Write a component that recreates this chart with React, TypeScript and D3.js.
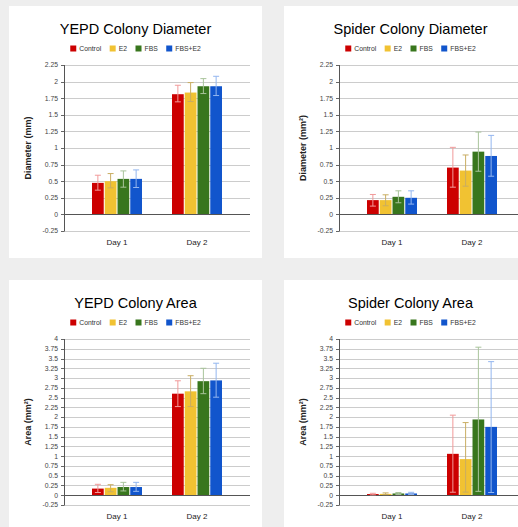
import { useEffect, useRef } from 'react'
import * as d3 from 'd3'

const days = ['Day 1', 'Day 2']
const series = ['Control', 'E2', 'FBS', 'FBS+E2']
const barColors = ['#cc0000', '#f1c232', '#38761d', '#1155cc']
const errColors = ['#f19a9a', '#c9ad62', '#a9c49b', '#93b6ef']

const diameterTicks = [-0.25, 0, 0.25, 0.5, 0.75, 1, 1.25, 1.5, 1.75, 2, 2.25]
const areaTicks = [
    -0.25, 0, 0.25, 0.5, 0.75, 1, 1.25, 1.5, 1.75, 2, 2.25, 2.5, 2.75, 3, 3.25, 3.5, 3.75, 4,
]

// one row per series: [Day 1, Day 2]
const yepdDiameterMean = [[0.475, 1.81], [0.5, 1.835], [0.535, 1.93], [0.535, 1.93]]
const yepdDiameterLow = [[0.365, 1.695], [0.4, 1.7], [0.41, 1.82], [0.405, 1.79]]
const yepdDiameterHigh = [[0.59, 1.945], [0.615, 1.985], [0.655, 2.045], [0.67, 2.08]]

const spiderDiameterMean = [[0.215, 0.705], [0.215, 0.66], [0.265, 0.945], [0.25, 0.88]]
const spiderDiameterLow = [[0.125, 0.41], [0.13, 0.425], [0.175, 0.65], [0.155, 0.575]]
const spiderDiameterHigh = [[0.3, 1.01], [0.295, 0.895], [0.355, 1.24], [0.355, 1.19]]

const yepdAreaMean = [[0.17, 2.6], [0.19, 2.66], [0.21, 2.92], [0.21, 2.94]]
const yepdAreaLow = [[0.07, 2.27], [0.09, 2.27], [0.11, 2.6], [0.1, 2.51]]
const yepdAreaHigh = [[0.28, 2.93], [0.27, 3.06], [0.33, 3.25], [0.33, 3.38]]

const spiderAreaMean = [[0.03, 1.06], [0.035, 0.925], [0.045, 1.94], [0.045, 1.75]]
const spiderAreaLow = [[0.01, 0.077], [0.015, 0.08], [0.02, 0.1], [0.02, 0.07]]
const spiderAreaHigh = [[0.05, 2.05], [0.06, 1.86], [0.07, 3.79], [0.075, 3.42]]

const panels = [
    { x: 9, y: 6, title: 'YEPD Colony Diameter', yLabel: 'Diameter (mm)', ticks: diameterTicks, mean: yepdDiameterMean, low: yepdDiameterLow, high: yepdDiameterHigh },
    { x: 284, y: 6, title: 'Spider Colony Diameter', yLabel: 'Diameter (mm²)', ticks: diameterTicks, mean: spiderDiameterMean, low: spiderDiameterLow, high: spiderDiameterHigh },
    { x: 9, y: 280, title: 'YEPD Colony Area', yLabel: 'Area (mm²)', ticks: areaTicks, mean: yepdAreaMean, low: yepdAreaLow, high: yepdAreaHigh },
    { x: 284, y: 280, title: 'Spider Colony Area', yLabel: 'Area (mm²)', ticks: areaTicks, mean: spiderAreaMean, low: spiderAreaLow, high: spiderAreaHigh },
]

const W = 518
const H = 527
const FONT = '"Liberation Sans", Arial, sans-serif'
const box = { w: 253, h: 252 }
const plot = { left: 55, right: 241, top: 59, bottom: 225 }

const drawPanel = (svg, p) => {
    const g = svg.append('g').attr('transform', `translate(${p.x},${p.y})`)

    g.append('rect').attr('width', box.w).attr('height', box.h).attr('fill', '#ffffff')

    const y = d3
        .scaleLinear()
        .domain([p.ticks[0], p.ticks[p.ticks.length - 1]])
        .range([plot.bottom, plot.top])
    const x0 = d3.scaleBand().domain(days).range([plot.left, plot.right]).paddingInner(0.375).paddingOuter(0.35)
    const x1 = d3.scaleBand().domain(series).range([0, x0.bandwidth()]).paddingInner(0.08)

    // Title
    g.append('text')
        .attr('x', box.w / 2)
        .attr('y', 27.5)
        .attr('text-anchor', 'middle')
        .attr('font-size', 14.5)
        .attr('fill', '#000')
        .text(p.title)

    // Legend
    const legend = g.append('g')
    let cx = 0
    series.forEach((s, i) => {
        legend.append('rect').attr('x', cx).attr('y', 39.5).attr('width', 6).attr('height', 6).attr('fill', barColors[i])
        const t = legend
            .append('text')
            .attr('x', cx + 9)
            .attr('y', 45)
            .attr('font-size', 6.8)
            .attr('fill', '#333')
            .text(s)
        cx += 9 + (t.node() as SVGTextElement).getComputedTextLength() + 8.5
    })
    const legendW = cx - 8.5
    legend.attr('transform', `translate(${box.w / 2 - legendW / 2},0)`)

    // Gridlines
    g.append('g')
        .selectAll('line')
        .data(p.ticks)
        .join('line')
        .attr('x1', plot.left)
        .attr('x2', plot.right)
        .attr('y1', d => Math.round(y(d)) + 0.5)
        .attr('y2', d => Math.round(y(d)) + 0.5)
        .attr('stroke', '#cccccc')

    // Tick labels and tick marks
    g.append('g')
        .selectAll('text')
        .data(p.ticks)
        .join('text')
        .attr('x', plot.left - 6)
        .attr('y', d => y(d))
        .attr('dy', '0.35em')
        .attr('text-anchor', 'end')
        .attr('font-size', 6.8)
        .attr('fill', '#444')
        .text(d => String(d))
    g.append('g')
        .selectAll('line')
        .data(p.ticks)
        .join('line')
        .attr('x1', plot.left - 3)
        .attr('x2', plot.left)
        .attr('y1', d => Math.round(y(d)) + 0.5)
        .attr('y2', d => Math.round(y(d)) + 0.5)
        .attr('stroke', '#666')

    // Bars
    series.forEach((s, si) => {
        g.append('g')
            .selectAll('rect')
            .data(days)
            .join('rect')
            .attr('x', (d, di) => x0(d) + x1(s))
            .attr('width', x1.bandwidth())
            .attr('y', (d, di) => y(Math.max(0, p.mean[si][di])))
            .attr('height', (d, di) => Math.abs(y(p.mean[si][di]) - y(0)))
            .attr('fill', barColors[si])
    })

    // Zero line and axis
    g.append('line')
        .attr('x1', plot.left)
        .attr('x2', plot.right)
        .attr('y1', Math.round(y(0)) + 0.5)
        .attr('y2', Math.round(y(0)) + 0.5)
        .attr('stroke', '#555')
    g.append('line')
        .attr('x1', plot.left + 0.5)
        .attr('x2', plot.left + 0.5)
        .attr('y1', plot.top)
        .attr('y2', plot.bottom + 0.5)
        .attr('stroke', '#555')

    // Error bars
    series.forEach((s, si) => {
        const eg = g.append('g').attr('stroke', errColors[si]).attr('stroke-width', 1)
        days.forEach((d, di) => {
            const cxm = x0(d) + x1(s) + x1.bandwidth() / 2
            const lo = y(p.low[si][di])
            const hi = y(p.high[si][di])
            eg.append('line').attr('x1', cxm).attr('x2', cxm).attr('y1', lo).attr('y2', hi)
            eg.append('line').attr('x1', cxm - 3).attr('x2', cxm + 3).attr('y1', lo).attr('y2', lo)
            eg.append('line').attr('x1', cxm - 3).attr('x2', cxm + 3).attr('y1', hi).attr('y2', hi)
        })
    })

    // Category labels
    g.append('g')
        .selectAll('text')
        .data(days)
        .join('text')
        .attr('x', d => x0(d) + x0.bandwidth() / 2)
        .attr('y', 238.5)
        .attr('text-anchor', 'middle')
        .attr('font-size', 8)
        .attr('fill', '#222')
        .text(d => d)

    // Y axis title
    g.append('text')
        .attr('transform', `translate(21.5,${(plot.top + plot.bottom) / 2}) rotate(-90)`)
        .attr('text-anchor', 'middle')
        .attr('font-size', 9)
        .attr('font-weight', 'bold')
        .attr('fill', '#222')
        .text(p.yLabel)
}

export default function App() {
    const ref = useRef<SVGSVGElement>(null)

    useEffect(() => {
        document.body.style.margin = '0'
        const svg = d3.select(ref.current)
        svg.selectAll('*').remove()
        svg.append('rect').attr('width', W).attr('height', H).attr('fill', '#eeeeee')
        panels.forEach(p => drawPanel(svg, p))
    }, [])

    return <svg ref={ref} width={W} height={H} style={{ display: 'block', fontFamily: FONT }} />
}
